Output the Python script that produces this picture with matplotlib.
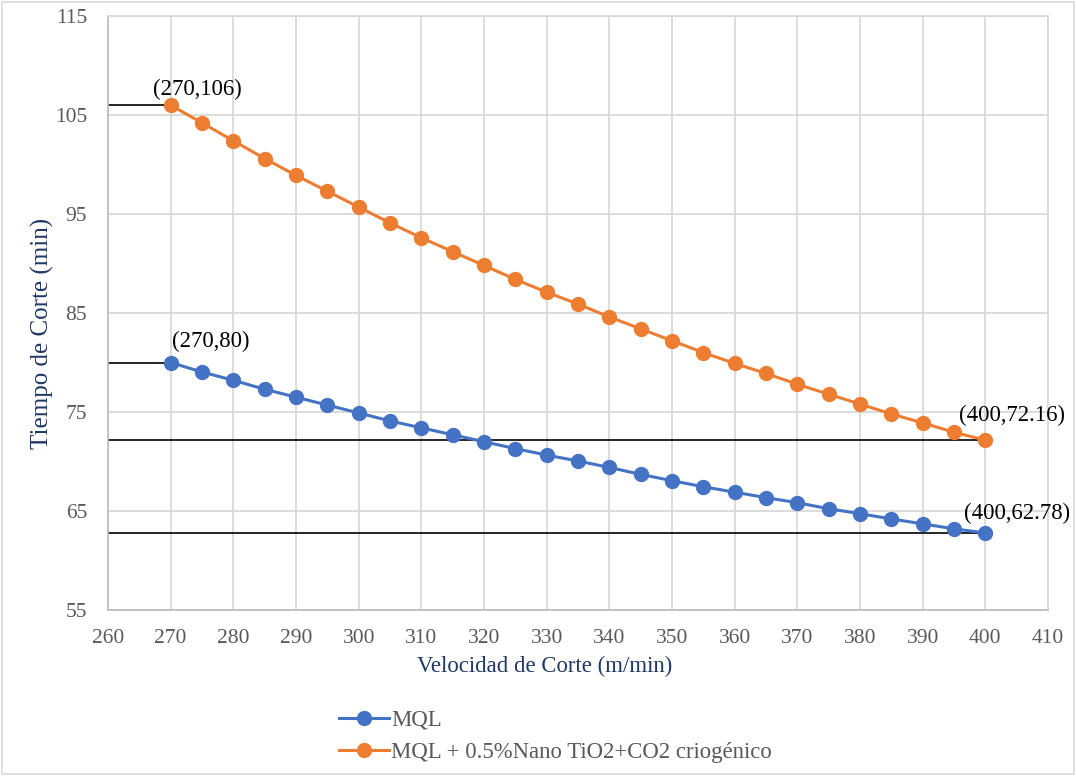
import matplotlib
matplotlib.use("Agg")
import matplotlib.pyplot as plt
from matplotlib.patches import Rectangle

plt.rcParams["font.family"] = ["Liberation Serif", "DejaVu Serif"]

# Cutting speed (m/min)
velocidad = [270, 275, 280, 285, 290, 295, 300, 305, 310, 315, 320, 325, 330, 335,
             340, 345, 350, 355, 360, 365, 370, 375, 380, 385, 390, 395, 400]

# Cutting time (min) for each lubrication strategy
mql = [80.0, 79.04, 78.2, 77.3, 76.5, 75.7, 74.9, 74.1, 73.4, 72.7, 72.0, 71.3, 70.65, 70.05,
       69.4, 68.7, 68.06, 67.45, 66.9, 66.35, 65.84, 65.23, 64.73, 64.2, 63.7, 63.2, 62.78]
mql_nano = [106.0, 104.2, 102.4, 100.6, 98.9, 97.3, 95.7, 94.1, 92.6, 91.2, 89.8, 88.4, 87.1, 85.9,
            84.6, 83.4, 82.2, 81.0, 79.9, 78.9, 77.8, 76.8, 75.8, 74.8, 73.9, 72.95, 72.16]

serie_labels = ["MQL", "MQL + 0.5%Nano TiO2+CO2 criogénico"]
x_ticks = list(range(260, 411, 10))
y_ticks = list(range(55, 116, 10))

BLUE = "#4472C4"
ORANGE = "#ED7D31"
GRID = "#D9D9D9"
TICK = "#595959"
NAVY = "#1F3864"

W, H = 1076, 776
fig = plt.figure(figsize=(W / 100, H / 100), dpi=100)
fig.patches.append(Rectangle((0.002, 0.002), 0.996, 0.996, transform=fig.transFigure,
                             fill=False, edgecolor=GRID, linewidth=1.2))

ax = fig.add_axes([108 / W, (H - 610) / H, 940 / W, 594 / H])
ax.set_xlim(x_ticks[0], x_ticks[-1])
ax.set_ylim(y_ticks[0], y_ticks[-1])
ax.set_xticks(x_ticks)
ax.set_yticks(y_ticks)
ax.grid(True, color=GRID, linewidth=1.3)
ax.set_axisbelow(True)
for side, sp in ax.spines.items():
    sp.set_color(GRID if side in ("top", "right") else "#BFBFBF")
    sp.set_linewidth(1.3)
ax.tick_params(length=0, labelsize=15.5, labelcolor=TICK)
ax.tick_params(axis="y", pad=15)
ax.tick_params(axis="x", pad=14)

ax.set_xlabel("Velocidad de Corte (m/min)", fontsize=16.4, color=NAVY)
ax.set_ylabel("Tiempo de Corte (min)", fontsize=18, color=NAVY)
ax.xaxis.set_label_coords(0.464, -0.078)
ax.yaxis.set_label_coords(-0.057, 0.466)

# Reference lines from the vertical axis to the end points of each series
for xv, yv in [(velocidad[0], mql_nano[0]), (velocidad[0], mql[0]),
               (velocidad[-1], mql_nano[-1]), (velocidad[-1], mql[-1])]:
    ax.hlines(yv, x_ticks[0], xv, color="black", linewidth=1.2, zorder=2)

ax.plot(velocidad, mql, color=BLUE, linewidth=2.2, marker="o", markersize=10,
        label=serie_labels[0], zorder=3)
ax.plot(velocidad, mql_nano, color=ORANGE, linewidth=2.2, marker="o", markersize=10,
        label=serie_labels[1], zorder=3)

def fmt(v):
    return f"{v:g}"

notes = [
    (velocidad[0], mql_nano[0], (19, 11)),
    (velocidad[0], mql[0], (29, 15)),
    (velocidad[-1], mql_nano[-1], (19, 18)),
    (velocidad[-1], mql[-1], (23, 14)),
]
for xv, yv, off in notes:
    ax.annotate(f"({xv},{fmt(yv)})", (xv, yv), xytext=off, textcoords="offset points",
                ha="center", va="center", fontsize=16.4, color="black", zorder=4,
                annotation_clip=False)

fig.legend(loc="upper left", bbox_to_anchor=(318 / W, 1 - 689 / H), frameon=False,
           fontsize=16.4, handlelength=2.2, handletextpad=0.1, labelspacing=0.5,
           labelcolor=TICK)

fig.savefig("out.png", dpi=100)
